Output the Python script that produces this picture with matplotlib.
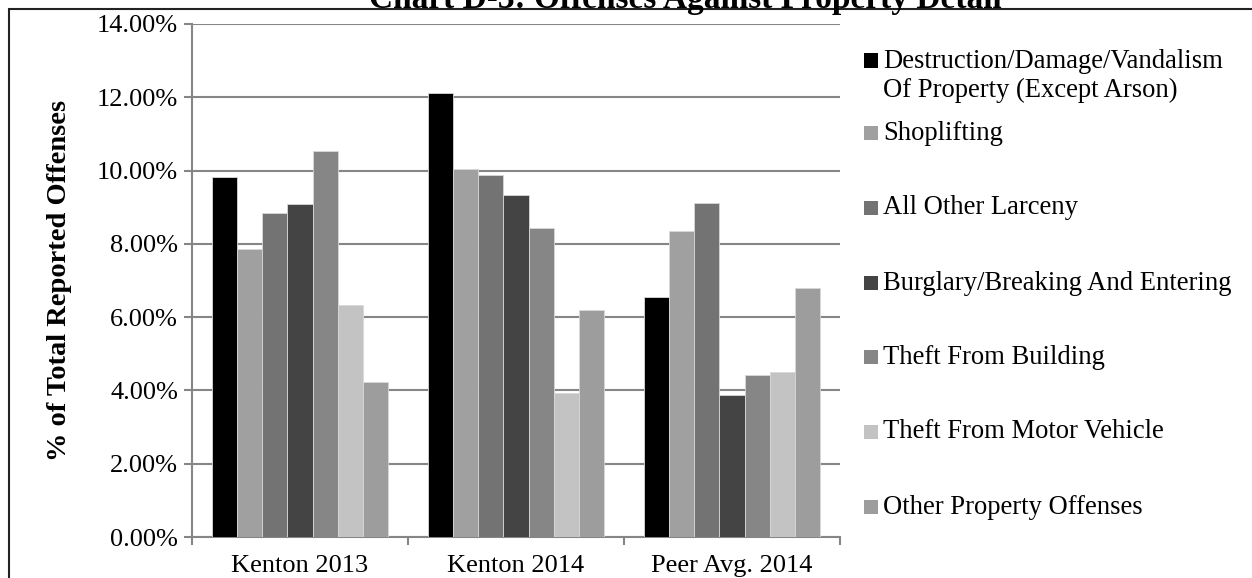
import numpy as np
import matplotlib
matplotlib.use("Agg")
import matplotlib.pyplot as plt
from matplotlib import ticker
from matplotlib.patches import Rectangle

plt.rcParams['font.family'] = ['Liberation Serif', 'DejaVu Serif']

categories = ["Kenton 2013", "Kenton 2014", "Peer Avg. 2014"]
series = [
    "Destruction/Damage/Vandalism\nOf Property (Except Arson)",
    "Shoplifting",
    "All Other Larceny",
    "Burglary/Breaking And Entering",
    "Theft From Building",
    "Theft From Motor Vehicle",
    "Other Property Offenses",
]
# values in percent, one list per series (Kenton 2013, Kenton 2014, Peer Avg. 2014)
destruction = [9.82, 12.12, 6.54]
shoplifting = [7.87, 10.03, 8.35]
larceny = [8.85, 9.88, 9.11]
burglary = [9.09, 9.33, 3.88]
building = [10.54, 8.43, 4.41]
motor_vehicle = [6.32, 3.92, 4.51]
other = [4.22, 6.19, 6.80]
values = [destruction, shoplifting, larceny, burglary, building, motor_vehicle, other]
colors = ["#000000", "#a0a0a0", "#737373", "#444444", "#868686", "#c3c3c3", "#9d9d9d"]

W, H = 1252, 578
fig = plt.figure(figsize=(W / 100, H / 100), dpi=100)
ax = fig.add_axes([192 / W, (H - 537) / H, (840 - 192) / W, (537 - 24) / H])

x = np.arange(len(categories))
bw = 0.117
n = len(series)
for i, (vals, col) in enumerate(zip(values, colors)):
    ax.bar(x + (i - (n - 1) / 2) * bw, vals, width=bw, color=col,
           edgecolor="#d8d8d8", linewidth=0.6, zorder=3)

ax.set_xlim(-0.5, len(categories) - 0.5)
ax.set_ylim(0, 14)
ax.yaxis.set_major_locator(ticker.MultipleLocator(2))
ax.yaxis.set_major_formatter(ticker.FuncFormatter(lambda v, p: f"{v:.2f}%"))
ax.grid(axis="y", color="#868686", linewidth=1.5, zorder=0)

ax.set_xticks(x)
ax.set_xticklabels(categories)
ax.set_xticks(np.arange(-0.5, len(categories)), minor=True)
ax.tick_params(axis="x", which="major", length=0, pad=13, labelsize=19)
ax.tick_params(axis="x", which="minor", length=6, width=1.5, color="#868686")
ax.tick_params(axis="y", length=6, width=1.5, color="#868686", labelsize=19, pad=4)

for side in ["top", "right"]:
    ax.spines[side].set_visible(False)
for side in ["left", "bottom"]:
    ax.spines[side].set_color("#868686")
    ax.spines[side].set_linewidth(1.5)

ax.set_ylabel("% of Total Reported Offenses", fontsize=20.5, fontweight="bold", labelpad=18)

# legend drawn by hand to follow the uneven spacing of the original
legend_y = [76, 133, 208, 283, 357, 432, 507]
line_h = 31
for lab, col, yc in zip(series, colors, legend_y):
    nl = lab.count("\n") + 1
    first = yc - (nl - 1) * line_h / 2
    fig.patches.append(Rectangle((864 / W, 1 - (first + 7) / H), 14 / W, 14 / H,
                                 transform=fig.transFigure, facecolor=col,
                                 edgecolor="none"))
    fig.text(883 / W, 1 - yc / H, lab, fontsize=19.2, va="center", ha="left",
             linespacing=1.17)

# outer frame, cut by the image edges
fig.patches.append(Rectangle((9 / W, -0.1), 1.2, 1 - 9 / H + 0.1,
                             transform=fig.transFigure, facecolor="none",
                             edgecolor="#222222", linewidth=1.5))

# title sits mostly above the top edge of the image, as in the source
fig.text(685 / W, 1 - 8 / H, "Chart D-3: Offenses Against Property Detail",
         fontsize=24, fontweight="bold", ha="center", va="baseline")

fig.savefig("out.png", dpi=100)
